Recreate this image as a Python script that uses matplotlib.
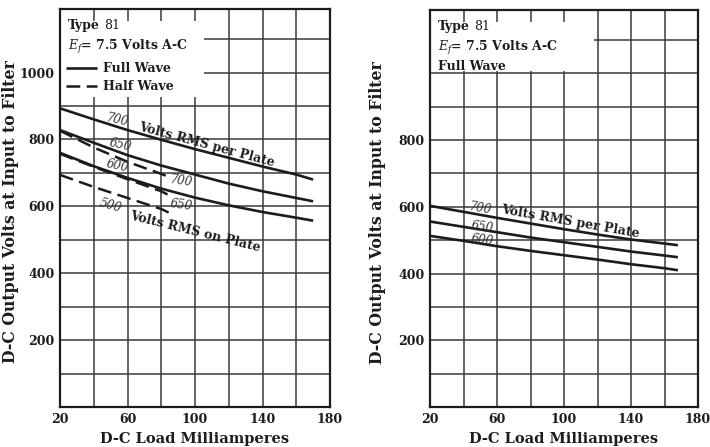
import matplotlib
matplotlib.use("Agg")
import matplotlib.pyplot as plt
from matplotlib.patches import Rectangle
from matplotlib.ticker import MultipleLocator, FixedLocator

plt.rcParams['font.family'] = ['DejaVu Serif']
plt.rcParams['mathtext.fontset'] = 'dejavuserif'

INK = '#1c1c1c'

# ---- Left chart: full wave and half wave, D-C load (mA) vs output volts ----
fw_load = [20, 40, 60, 80, 100, 120, 140, 160, 170]
fw_700 = [893, 860, 828, 799, 771, 745, 719, 695, 680]
fw_650 = [828, 790, 753, 722, 695, 668, 645, 625, 615]
fw_600 = [760, 720, 685, 653, 626, 603, 583, 566, 557]

hw_load = [20, 40, 60, 80, 85]
hw_700 = [826, 776, 733, 697, 687]
hw_650 = [757, 718, 681, 645, 632]
hw_500 = [694, 658, 625, 592, 580]

# ---- Right chart: full wave only ----
r_load = [20, 40, 60, 80, 100, 120, 140, 160, 168]
r_700 = [603, 585, 567, 550, 533, 517, 502, 490, 485]
r_650 = [556, 540, 524, 508, 494, 480, 466, 454, 449]
r_600 = [513, 498, 482, 468, 455, 442, 428, 416, 410]

x_ticks = [20, 60, 100, 140, 180]
y_ticks_left = [200, 400, 600, 800, 1000]
y_ticks_right = [200, 400, 600, 800]

XLABEL = "D-C Load Milliamperes"
YLABEL = "D-C Output Volts at Input to Filter"

fig = plt.figure(figsize=(7.1, 4.47), dpi=100)
ax1 = fig.add_axes([60 / 710, 40 / 447, 270 / 710, 398 / 447])
ax2 = fig.add_axes([430 / 710, 40 / 447, 268 / 710, 397 / 447])


def style_axes(ax, yticks, ylabel_x):
    ax.set_xlim(20, 180)
    ax.set_ylim(0, 1190)
    ax.xaxis.set_major_locator(FixedLocator(x_ticks))
    ax.xaxis.set_minor_locator(MultipleLocator(20))
    ax.yaxis.set_major_locator(FixedLocator(yticks))
    ax.yaxis.set_minor_locator(MultipleLocator(100))
    ax.grid(which='both', color='#3a3a3a', linewidth=1.1)
    ax.set_axisbelow(True)
    ax.tick_params(which='both', length=0)
    ax.tick_params(axis='x', pad=4, labelsize=9)
    ax.tick_params(axis='y', pad=4, labelsize=9)
    for lab in ax.get_xticklabels() + ax.get_yticklabels():
        lab.set_fontweight('bold')
        lab.set_color(INK)
    for sp in ax.spines.values():
        sp.set_linewidth(1.6)
        sp.set_color(INK)
        sp.set_zorder(4)
    ax.set_xlabel(XLABEL, fontsize=10.5, fontweight='bold', color=INK)
    ax.xaxis.set_label_coords(0.5, -0.062)
    ax.set_ylabel(YLABEL, fontsize=11.3, fontweight='bold', color=INK)
    ax.yaxis.set_label_coords(ylabel_x, 0.49)


style_axes(ax1, y_ticks_left, -0.15)
style_axes(ax2, y_ticks_right, -0.165)

solid = dict(color=INK, linewidth=1.9, solid_capstyle='butt', zorder=3)
dashed = dict(color=INK, linewidth=1.8, linestyle=(0, (5.5, 2.6)), zorder=3)

l_fw, = ax1.plot(fw_load, fw_700, **solid)
ax1.plot(fw_load, fw_650, **solid)
ax1.plot(fw_load, fw_600, **solid)
l_hw, = ax1.plot(hw_load, hw_700, **dashed)
ax1.plot(hw_load, hw_650, **dashed)
ax1.plot(hw_load, hw_500, **dashed)

ax2.plot(r_load, r_700, **solid)
ax2.plot(r_load, r_650, **solid)
ax2.plot(r_load, r_600, **solid)

# white panels behind the captions
ax1.add_patch(Rectangle((0.003, 0.78), 0.53, 0.19, transform=ax1.transAxes,
                        facecolor='white', edgecolor='none', zorder=3.5))
ax2.add_patch(Rectangle((0.003, 0.847), 0.61, 0.123, transform=ax2.transAxes,
                        facecolor='white', edgecolor='none', zorder=3.5))

cap = dict(fontsize=9, color=INK, va='center', ha='left', zorder=5)
for ax in (ax1, ax2):
    ax.text(0.03, 0.958, "Type", fontweight='bold', transform=ax.transAxes, **cap)
    ax.text(0.165, 0.958, "81", transform=ax.transAxes, **cap)
    ax.text(0.03, 0.905, r"$E_f$" + "= 7.5 Volts A-C", fontweight='bold',
            transform=ax.transAxes, **cap)
ax2.text(0.03, 0.857, "Full Wave", fontweight='bold', transform=ax2.transAxes, **cap)

leg = ax1.legend([l_fw, l_hw], ["Full Wave", "Half Wave"], loc='upper left',
                 bbox_to_anchor=(-0.005, 0.885), frameon=False, handlelength=2.5,
                 handletextpad=0.45, labelspacing=0.4, borderpad=0.1,
                 prop=dict(size=9, weight='bold'))
leg.set_zorder(5)
for t in leg.get_texts():
    t.set_color(INK)

num = dict(fontsize=8.5, style='italic', color='#333333', ha='center', va='center', zorder=5)
word = dict(fontsize=9, fontweight='bold', color=INK, ha='center', va='center', zorder=5)

# left chart curve labels
ax1.text(54, 858, "700", rotation=-13, **num)
ax1.text(107, 784, "Volts RMS per Plate", rotation=-15, **word)
ax1.text(56, 783, "650", rotation=-12, **num)
ax1.text(54, 720, "600", rotation=-12, **num)
ax1.text(92, 676, "700", rotation=-8, **num)
ax1.text(92, 604, "650", rotation=-8, **num)
ax1.text(50, 601, "500", rotation=-16, **num)
ax1.text(100, 524, "Volts RMS on Plate", rotation=-14, **word)

# right chart curve labels
ax2.text(50, 596, "700", rotation=-10, **num)
ax2.text(104, 555, "Volts RMS per Plate", rotation=-10, **word)
ax2.text(51, 539, "650", rotation=-8, **num)
ax2.text(51, 500, "600", rotation=-8, **num)

fig.savefig("out.png", dpi=100, facecolor='white')
